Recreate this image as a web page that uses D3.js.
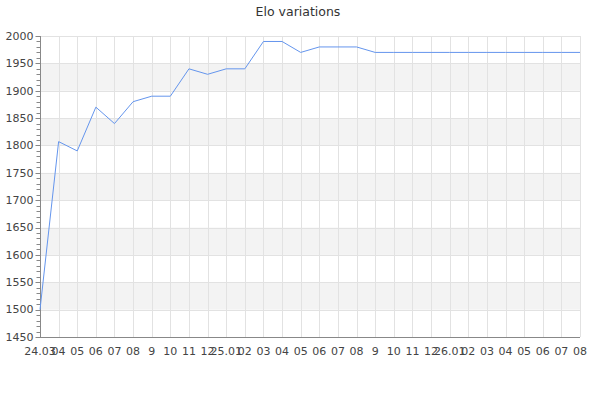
<!DOCTYPE html>
<html>
<head>
<meta charset="utf-8">
<script src="https://cdn.jsdelivr.net/npm/d3@7"></script>
<style>
  html, body { margin: 0; padding: 0; background: #fff; }
  svg { display: block; font-family: "DejaVu Sans", sans-serif; }
</style>
</head>
<body>
<svg id="chart" width="600" height="400"></svg>
<script>
const title = "Elo variations";
const xLabels = ["24.03","04","05","06","07","08","9","10","11","12",
  "25.01","02","03","04","05","06","07","08","9","10","11","12",
  "26.01","02","03","04","05","06","07","08"];
const eloValues = [1500,1807,1790,1870,1840,1880,1890,1890,1940,1930,
  1940,1940,1990,1990,1970,1980,1980,1980,1970,1970,
  1970,1970,1970,1970,1970,1970,1970,1970,1970,1970];
const yMin = 1450, yMax = 2000;
const yTicks = [1450,1500,1550,1600,1650,1700,1750,1800,1850,1900,1950,2000];

(function () {
const svg = d3.select("#chart");
const mLeft = 40, mRight = 580, mTop = 36, mBottom = 337;

const x = d3.scaleLinear().domain([0, xLabels.length - 1]).range([mLeft, mRight]);
const y = d3.scaleLinear().domain([yMin, yMax]).range([mBottom, mTop]);

// alternating bands
const bands = [];
for (let i = 0; i < yTicks.length - 1; i++) {
  if (i % 2 === 1) bands.push([yTicks[i], yTicks[i + 1]]);
}
svg.append("g").selectAll("rect").data(bands).join("rect")
  .attr("x", mLeft).attr("width", mRight - mLeft)
  .attr("y", d => y(d[1])).attr("height", d => y(d[0]) - y(d[1]))
  .attr("fill", "#f3f3f3");

// horizontal grid
svg.append("g").selectAll("line").data(yTicks.slice(1)).join("line")
  .attr("x1", mLeft).attr("x2", mRight)
  .attr("y1", d => Math.round(y(d)) + 0.5).attr("y2", d => Math.round(y(d)) + 0.5)
  .attr("stroke", "#e2e2e2").attr("stroke-width", 1);

// vertical grid
svg.append("g").selectAll("line").data(d3.range(1, xLabels.length)).join("line")
  .attr("x1", d => Math.round(x(d)) + 0.5).attr("x2", d => Math.round(x(d)) + 0.5)
  .attr("y1", mTop).attr("y2", mBottom)
  .attr("stroke", "#e2e2e2").attr("stroke-width", 1);

// y axis with minor ticks
const yAxisG = svg.append("g").attr("transform", `translate(${mLeft + 0.5},0)`);
const minor = d3.range(yMin, yMax + 1, 10);
yAxisG.selectAll("line.minor").data(minor).join("line")
  .attr("class", "minor")
  .attr("x1", -4).attr("x2", 0)
  .attr("y1", d => Math.round(y(d)) + 0.5).attr("y2", d => Math.round(y(d)) + 0.5)
  .attr("stroke", "#888");
yAxisG.selectAll("line.major").data(yTicks).join("line")
  .attr("class", "major")
  .attr("x1", -5).attr("x2", 0)
  .attr("y1", d => Math.round(y(d)) + 0.5).attr("y2", d => Math.round(y(d)) + 0.5)
  .attr("stroke", "#888");
yAxisG.append("line").attr("x1", 0).attr("x2", 0).attr("y1", mTop).attr("y2", mBottom)
  .attr("stroke", "#888");
yAxisG.selectAll("text").data(yTicks).join("text")
  .attr("x", -7).attr("y", d => y(d)).attr("dy", "0.35em")
  .attr("text-anchor", "end").attr("font-size", 11).attr("fill", "#444")
  .text(d => d);

// x axis
svg.append("line").attr("x1", mLeft).attr("x2", mRight)
  .attr("y1", mBottom + 0.5).attr("y2", mBottom + 0.5).attr("stroke", "#888");
svg.append("g").selectAll("text").data(xLabels).join("text")
  .attr("x", (d, i) => x(i)).attr("y", 355)
  .attr("text-anchor", "middle").attr("font-size", 11).attr("fill", "#444")
  .text(d => d);

// line
const line = d3.line().x((d, i) => x(i)).y(d => y(d));
svg.append("path").datum(eloValues)
  .attr("d", line).attr("fill", "none")
  .attr("stroke", "#6495ed").attr("stroke-width", 1);

// title
svg.append("text").attr("x", 298).attr("y", 16)
  .attr("text-anchor", "middle").attr("font-size", 12.5).attr("fill", "#333")
  .text(title);
})();
</script>
</body>
</html>
